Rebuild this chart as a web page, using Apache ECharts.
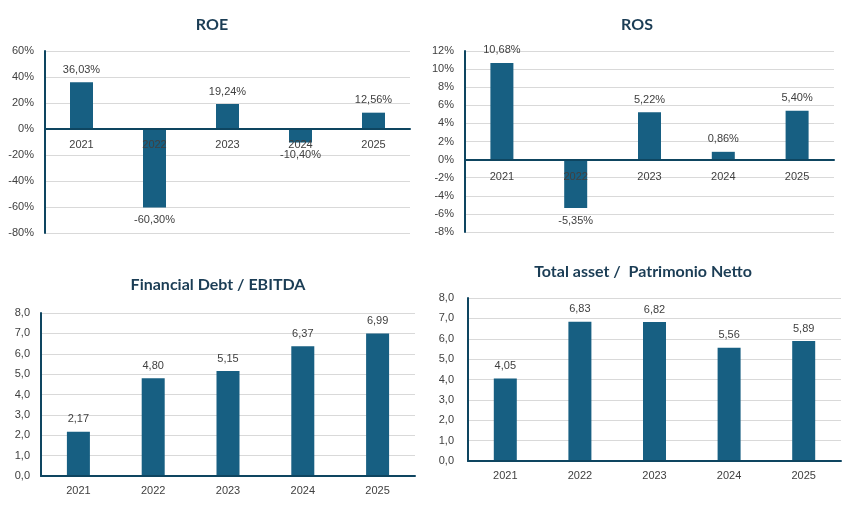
<!DOCTYPE html>
<html>
<head>
<meta charset="utf-8">
<script src="https://cdn.jsdelivr.net/npm/echarts@6/dist/echarts.min.js"></script>
<style>
    html, body { margin: 0; padding: 0; background: #fff; }
    #main { width: 857px; height: 520px; }
</style>
</head>
<body>
<div id="main"></div>
<script>
    // dati
    var years = ['2021', '2022', '2023', '2024', '2025'];
    var roeValues = [36.03, -60.30, 19.24, -10.40, 12.56];
    var rosValues = [10.68, -5.35, 5.22, 0.86, 5.40];
    var debtEbitdaValues = [2.17, 4.80, 5.15, 6.37, 6.99];
    var assetPnValues = [4.05, 6.83, 6.82, 5.56, 5.89];
    var chartTitles = ['ROE', 'ROS', 'Financial Debt / EBITDA', 'Total asset /  Patrimonio Netto'];

    var barColor = '#175F82';
    var axisColor = '#0E4560';
    var textColor = '#404040';
    var font = 'Liberation Sans, Arial, sans-serif';

    function comma(v, d) {
        return v.toFixed(d).replace('.', ',');
    }

    // griglie dei 4 grafici
    var grids = [
        {left: 45, right: 447, top: 51, bottom: 287},
        {left: 465, right: 23, top: 51, bottom: 288},
        {left: 41, right: 442, top: 313, bottom: 44},
        {left: 468, right: 16, top: 298, bottom: 59}
    ];

    var yConf = [
        {min: -80, max: 60, interval: 20, fmt: function (v) { return v + '%'; }},
        {min: -8, max: 12, interval: 2, fmt: function (v) { return v + '%'; }},
        {min: 0, max: 8, interval: 1, fmt: function (v) { return comma(v, 1); }},
        {min: 0, max: 8, interval: 1, fmt: function (v) { return comma(v, 1); }}
    ];

    // etichette anni sotto la linea dello zero (ROE / ROS)
    var xLabelMargin = [-94, -61, 9, 9];

    var seriesData = [roeValues, rosValues, debtEbitdaValues, assetPnValues];
    var labelFmt = [
        function (p) { return comma(p.value, 2) + '%'; },
        function (p) { return comma(p.value, 2) + '%'; },
        function (p) { return comma(p.value, 2); },
        function (p) { return comma(p.value, 2); }
    ];

    var titlePos = [[212, 25], [637, 25], [218, 285], [643, 272]];

    var xAxes = [], yAxes = [], series = [], graphics = [];
    for (var i = 0; i < 4; i++) {
        xAxes.push({
            type: 'category',
            gridIndex: i,
            z: 5,
            data: years,
            axisLine: {onZero: true, lineStyle: {color: axisColor, width: 2}},
            axisTick: {show: false},
            axisLabel: {color: textColor, fontSize: 11, fontFamily: font, margin: xLabelMargin[i]}
        });
        yAxes.push({
            type: 'value',
            gridIndex: i,
            min: yConf[i].min,
            max: yConf[i].max,
            interval: yConf[i].interval,
            axisLine: {show: true, lineStyle: {color: axisColor, width: 2}},
            axisTick: {show: false},
            splitLine: {lineStyle: {color: '#D9D9D9', width: 1}},
            axisLabel: {color: textColor, fontSize: 11, fontFamily: font, margin: i === 3 ? 14 : 11, formatter: yConf[i].fmt}
        });
        series.push({
            type: 'bar',
            xAxisIndex: i,
            yAxisIndex: i,
            barWidth: 23,
            itemStyle: {color: barColor},
            data: seriesData[i].map(function (v) {
                return {
                    value: v,
                    label: {position: v < 0 ? 'bottom' : 'top', distance: 7}
                };
            }),
            label: {
                show: true,
                color: textColor,
                fontSize: 11,
                fontFamily: font,
                formatter: labelFmt[i]
            }
        });
        graphics.push({
            type: 'text',
            x: titlePos[i][0],
            y: titlePos[i][1],
            style: {
                text: chartTitles[i],
                align: 'center',
                verticalAlign: 'middle',
                fill: '#1B3D55',
                font: 'bold 16px Lato, "Open Sans", sans-serif'
            }
        });
    }

    var chart = echarts.init(document.getElementById('main'));
    chart.setOption({
        animation: false,
        grid: grids,
        xAxis: xAxes,
        yAxis: yAxes,
        series: series,
        graphic: graphics
    });
</script>
</body>
</html>
